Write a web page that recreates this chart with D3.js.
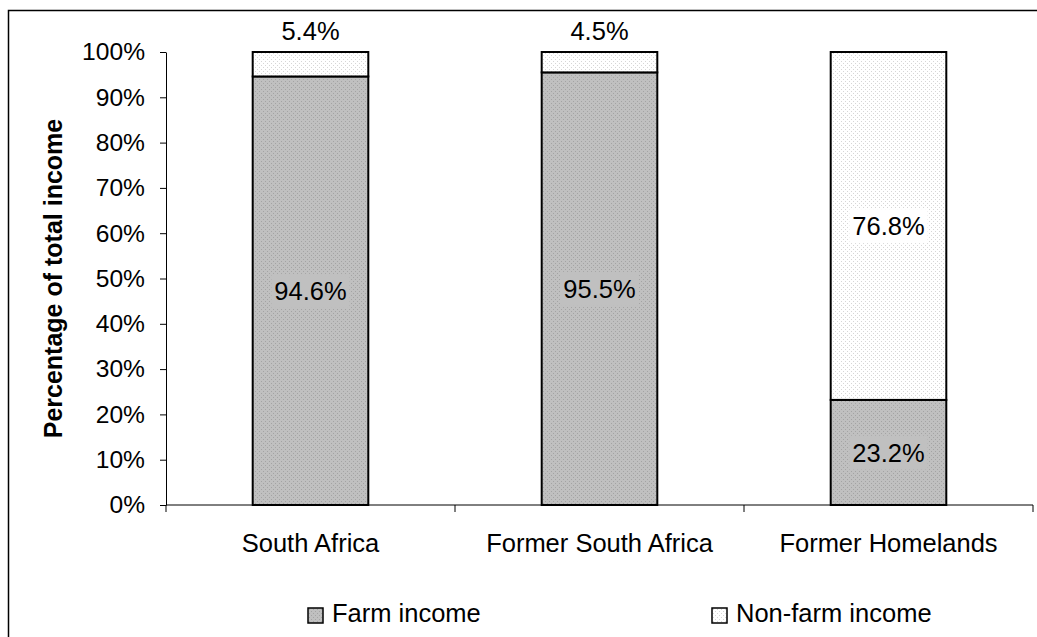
<!DOCTYPE html>
<html>
<head>
<meta charset="utf-8">
<script src="https://cdn.jsdelivr.net/npm/d3@7"></script>
<style>
  body { margin: 0; background: #fff; }
  text { font-family: "Liberation Sans", Arial, sans-serif; fill: #000; }
</style>
</head>
<body>
<div id="chart"></div>
<script>
const categories = ['South Africa', 'Former South Africa', 'Former Homelands']
const farmIncome = [94.6, 95.5, 23.2]
const nonFarmIncome = [5.4, 4.5, 76.8]
const seriesNames = ['Farm income', 'Non-farm income']
const yTicks = [0, 10, 20, 30, 40, 50, 60, 70, 80, 90, 100]

const width = 1037, height = 637
const margin = {top: 52, left: 166, right: 4, bottom: 132}
const fontSize = '24.6px'
const labelSize = '25.5px'

const svg = d3.select('#chart').append('svg')
    .attr('width', width)
    .attr('height', height)

// dotted fills
const defs = svg.append('defs')
function dots(id, bg, dot) {
    const p = defs.append('pattern')
        .attr('id', id)
        .attr('width', 4).attr('height', 4)
        .attr('patternUnits', 'userSpaceOnUse')
    p.append('rect').attr('width', 4).attr('height', 4).attr('fill', bg)
    p.append('rect').attr('x', 1).attr('y', 1).attr('width', 1).attr('height', 1).attr('fill', dot)
    p.append('rect').attr('x', 3).attr('y', 3).attr('width', 1).attr('height', 1).attr('fill', dot)
}
dots('farm', '#c0c0c0', '#a4a4a4')
dots('nonfarm', '#ffffff', '#d6d6d6')
const fills = ['url(#farm)', 'url(#nonfarm)']
const labelBg = ['#c0c0c0', '#ffffff']

// chart area border (left + top only, the rest is cut off)
svg.append('path')
    .attr('d', `M8.5,${height + 5} V10.5 H${width + 5}`)
    .attr('fill', 'none')
    .attr('stroke', '#000')
    .attr('stroke-width', 1.5)

const x = d3.scaleBand()
    .domain(categories)
    .range([margin.left, width - margin.right])
    .paddingInner(0.6)
    .paddingOuter(0.3)

const y = d3.scaleLinear()
    .domain([0, 100])
    .range([height - margin.bottom, margin.top])

const rows = categories.map((c, i) => ({cat: c, values: [farmIncome[i], nonFarmIncome[i]]}))
const stacked = d3.stack()
    .keys([0, 1])
    .value((d, k) => d.values[k])(rows)

// bars
stacked.forEach((layer, k) => {
    svg.append('g').selectAll('rect')
        .data(layer)
        .enter().append('rect')
        .attr('x', d => x(d.data.cat))
        .attr('y', d => y(d[1]))
        .attr('width', x.bandwidth())
        .attr('height', d => y(d[0]) - y(d[1]))
        .attr('fill', fills[k])
        .attr('stroke', '#000')
        .attr('stroke-width', 2)
})

// y axis
const yAxis = svg.append('g')
    .attr('transform', `translate(${margin.left},0)`)
    .call(d3.axisLeft(y).tickValues(yTicks).tickFormat(d => d + '%').tickSize(6).tickPadding(15).tickSizeOuter(0))
yAxis.select('.domain').attr('stroke', '#000').attr('stroke-width', 1)
yAxis.selectAll('text').style('font-size', fontSize)
    .style('font-family', '"Liberation Sans", Arial, sans-serif')

// x axis, ticks between categories
const xAxisY = y(0)
const xg = svg.append('g')
xg.append('line')
    .attr('x1', margin.left).attr('x2', width - margin.right)
    .attr('y1', xAxisY).attr('y2', xAxisY)
    .attr('stroke', '#000')
const step = (width - margin.right - margin.left) / categories.length
d3.range(categories.length + 1).forEach(i => {
    xg.append('line')
        .attr('x1', margin.left + i * step).attr('x2', margin.left + i * step)
        .attr('y1', xAxisY).attr('y2', xAxisY + 7)
        .attr('stroke', '#000')
})
xg.selectAll('text.cat')
    .data(categories)
    .enter().append('text')
    .attr('class', 'cat')
    .attr('x', d => x(d) + x.bandwidth() / 2)
    .attr('y', 552)
    .attr('text-anchor', 'middle')
    .style('font-size', labelSize)
    .text(d => d)

// axis title
svg.append('text')
    .attr('transform', `translate(62,${(y(0) + y(100)) / 2}) rotate(-90)`)
    .attr('text-anchor', 'middle')
    .style('font-size', '25px')
    .style('font-weight', 'bold')
    .text('Percentage of total income')

// value labels
stacked.forEach((layer, k) => {
    layer.forEach(d => {
        const v = d.data.values[k]
        const cx = x(d.data.cat) + x.bandwidth() / 2
        const small = (y(d[0]) - y(d[1])) < 30
        const t = svg.append('text')
            .attr('x', cx)
            .attr('text-anchor', 'middle')
            .style('font-size', labelSize)
            .text(v.toFixed(1) + '%')
        if (small) {
            t.attr('y', y(d[1]) - 12)
        } else {
            t.attr('y', (y(d[0]) + y(d[1])) / 2).attr('dy', '0.36em')
            const bb = t.node().getBBox()
            svg.insert('rect', function() { return t.node() })
                .attr('x', bb.x - 3).attr('y', bb.y - 3)
                .attr('width', bb.width + 6).attr('height', bb.height + 6)
                .attr('fill', labelBg[k])
        }
    })
})

// legend
const legendX = [308, 712]
const lg = svg.append('g')
seriesNames.forEach((name, k) => {
    lg.append('rect')
        .attr('x', legendX[k]).attr('y', 608)
        .attr('width', 15).attr('height', 15)
        .attr('fill', fills[k])
        .attr('stroke', '#000')
        .attr('stroke-width', 1.5)
    lg.append('text')
        .attr('x', legendX[k] + 24)
        .attr('y', 622)
        .style('font-size', labelSize)
        .text(name)
})
</script>
</body>
</html>
